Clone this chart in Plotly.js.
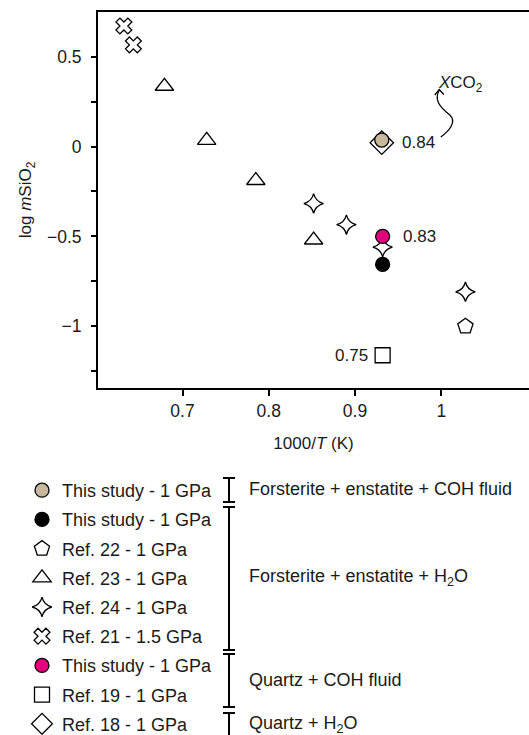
<!DOCTYPE html>
<html>
<head>
<meta charset="utf-8">
<script src="https://cdn.plot.ly/plotly-3.0.1.min.js"></script>
<style>html,body{margin:0;padding:0;background:#fff;}#chart{width:529px;height:735px;}</style>
</head>
<body>
<div id="chart"></div>
<script>
// ---- data ----
const ref21X = [0.632, 0.643];
const ref21Y = [0.670, 0.565];
const ref23X = [0.679, 0.728, 0.785, 0.852];
const ref23Y = [0.335, 0.034, -0.189, -0.52];
const ref24X = [0.852, 0.890, 0.932, 1.028];
const ref24Y = [-0.317, -0.435, -0.56, -0.808];
const ref22X = [1.028];
const ref22Y = [-1.0];
const ref19X = [0.932];
const ref19Y = [-1.161];
const ref18X = [0.931];
const ref18Y = [0.021];
const fsCohX = [0.931];   // forsterite + enstatite + COH fluid (this study)
const fsCohY = [0.036];
const fsH2oX = [0.932];   // forsterite + enstatite + H2O (this study)
const fsH2oY = [-0.656];
const qzCohX = [0.932];   // quartz + COH fluid (this study)
const qzCohY = [-0.5];
const xco2Labels = ['0.84', '0.83', '0.75'];
const xTicks = [0.7, 0.8, 0.9, 1];
const xTickText = ['0.7', '0.8', '0.9', '1'];

const FONT = 'Liberation Sans, Arial, Helvetica, sans-serif';
const TXT = '#1a1a1a';
const W = 529, H = 735;
const M = {l: 98, r: 0, t: 12, b: 347, autoexpand: false};
const PW = W - M.l - M.r, PH = H - M.t - M.b;
const px2x = p => (p - M.l) / PW;
const px2y = p => 1 - (p - M.t) / PH;

function tr(name, x, y, symbol, fill, size, rank) {
  return {
    type: 'scatter', mode: 'markers', x: x, y: y, name: name,
    legendrank: rank, legendgroup: 'g' + rank,
    marker: {symbol: symbol, size: size, color: fill, line: {color: '#000', width: 1.3}},
    cliponaxis: false, hoverinfo: 'x+y'
  };
}

const traces = [
  tr('Ref. 18 - 1 GPa', ref18X, ref18Y, 'diamond', '#ffffff', 18, 9),
  tr('Ref. 24 - 1 GPa', ref24X, ref24Y, 'star-diamond', '#ffffff', 14, 5),
  tr('Ref. 21 - 1.5 GPa', ref21X, ref21Y, 'x', '#ffffff', 14, 6),
  tr('Ref. 23 - 1 GPa', ref23X, ref23Y, 'triangle-up', '#ffffff', 16, 4),
  tr('Ref. 22 - 1 GPa', ref22X, ref22Y, 'pentagon', '#ffffff', 16, 3),
  tr('Ref. 19 - 1 GPa', ref19X, ref19Y, 'square', '#ffffff', 15, 8),
  tr('This study - 1 GPa', fsCohX, fsCohY, 'circle', '#c9b99c', 14, 1),
  tr('This study - 1 GPa', fsH2oX, fsH2oY, 'circle', '#000000', 14, 2),
  tr('This study - 1 GPa', qzCohX, qzCohY, 'circle', '#e3007d', 14, 7)
];

const annFont = {family: FONT, size: 17, color: TXT};
const annotations = [
  {x: fsCohX[0], y: fsCohY[0], xref: 'x', yref: 'y', text: xco2Labels[0], showarrow: false,
   xanchor: 'left', yanchor: 'middle', xshift: 18, yshift: -2, font: annFont},
  {x: qzCohX[0], y: qzCohY[0], xref: 'x', yref: 'y', text: xco2Labels[1], showarrow: false,
   xanchor: 'left', yanchor: 'middle', xshift: 18, font: annFont},
  {x: ref19X[0], y: ref19Y[0], xref: 'x', yref: 'y', text: xco2Labels[2], showarrow: false,
   xanchor: 'right', yanchor: 'middle', xshift: -13, font: annFont},
  {x: fsCohX[0], y: fsCohY[0], xref: 'x', yref: 'y', text: '<i>X</i>CO<sub>2</sub>', showarrow: false,
   xanchor: 'left', yanchor: 'middle', xshift: 54, yshift: 56, font: annFont}
];

// group labels next to the legend
const groups = [
  {text: 'Forsterite + enstatite + COH fluid', y: 489},
  {text: 'Forsterite + enstatite + H<sub>2</sub>O', y: 577},
  {text: 'Quartz + COH fluid', y: 680},
  {text: 'Quartz + H<sub>2</sub>O', y: 724}
];
groups.forEach(g => annotations.push({
  xref: 'paper', yref: 'paper', x: px2x(247), y: px2y(g.y), text: g.text, showarrow: false,
  xanchor: 'left', yanchor: 'middle', font: {family: FONT, size: 18, color: TXT}
}));

const shapes = [];
// brackets grouping legend entries
const brackets = [[478, 502, true, true], [507, 650, true, true], [654, 707, true, true], [713, 745, true, false]];
const BX = 229;
brackets.forEach(b => {
  shapes.push({type: 'line', xref: 'paper', yref: 'paper', x0: px2x(BX), x1: px2x(BX), y0: px2y(b[0]), y1: px2y(b[1]),
    line: {color: '#000', width: 2}});
  if (b[2]) shapes.push({type: 'line', xref: 'paper', yref: 'paper', x0: px2x(BX - 6), x1: px2x(BX + 6), y0: px2y(b[0]), y1: px2y(b[0]), line: {color: '#000', width: 2}});
  if (b[3]) shapes.push({type: 'line', xref: 'paper', yref: 'paper', x0: px2x(BX - 6), x1: px2x(BX + 6), y0: px2y(b[1]), y1: px2y(b[1]), line: {color: '#000', width: 2}});
});
// curly arrow towards the XCO2 label (pixel offsets from the tan marker)
shapes.push({type: 'path', xref: 'x', yref: 'y', xsizemode: 'pixel', ysizemode: 'pixel',
  xanchor: fsCohX[0], yanchor: fsCohY[0],
  path: 'M 59 3 C 66 8, 76 18, 68 25 C 58 33, 52 40, 57.5 50',
  line: {color: '#000', width: 1.3}});
shapes.push({type: 'path', xref: 'x', yref: 'y', xsizemode: 'pixel', ysizemode: 'pixel',
  xanchor: fsCohX[0], yanchor: fsCohY[0],
  path: 'M 53 45 L 57.5 50.5 L 62 45.5',
  line: {color: '#000', width: 1.3}});

const layout = {
  width: W, height: H,
  margin: M,
  paper_bgcolor: '#fff', plot_bgcolor: '#fff',
  font: {family: FONT, size: 17, color: TXT},
  showlegend: true,
  legend: {
    x: px2x(22), y: px2y(472), xanchor: 'left', yanchor: 'top',
    traceorder: 'grouped', tracegroupgap: 2.8,
    font: {family: FONT, size: 18, color: TXT},
    bgcolor: 'rgba(0,0,0,0)', borderwidth: 0, itemclick: false, itemdoubleclick: false
  },
  xaxis: {
    range: [0.602, 1.1017], tickmode: 'array', tickvals: xTicks, ticktext: xTickText,
    showgrid: false, zeroline: false, showline: true, linecolor: '#000', linewidth: 2, mirror: true,
    ticks: 'outside', ticklen: 6, tickwidth: 2, tickcolor: '#000',
    tickfont: {family: FONT, size: 17.5, color: TXT},
    title: {text: '1000/<i>T</i> (K)', font: {family: FONT, size: 17, color: TXT}, standoff: 17},
    automargin: false, fixedrange: true
  },
  yaxis: {
    range: [-1.343, 0.748], tickmode: 'linear', tick0: 0, dtick: 0.5,
    minor: {dtick: 0.25, tick0: 0, ticks: 'outside', ticklen: 5, tickwidth: 2, tickcolor: '#000', showgrid: false},
    showgrid: false, zeroline: false, showline: true, linecolor: '#000', linewidth: 2, mirror: false,
    ticks: 'outside', ticklen: 5, tickwidth: 2, tickcolor: '#000', ticklabelstandoff: 6,
    tickfont: {family: FONT, size: 17.5, color: TXT},
    title: {text: 'log <i>m</i>SiO<sub>2</sub>', font: {family: FONT, size: 17, color: TXT}, standoff: 11},
    automargin: false, fixedrange: true
  },
  annotations: annotations,
  shapes: shapes
};

Plotly.newPlot('chart', traces, layout, {displayModeBar: false, staticPlot: true});
</script>
</body>
</html>
